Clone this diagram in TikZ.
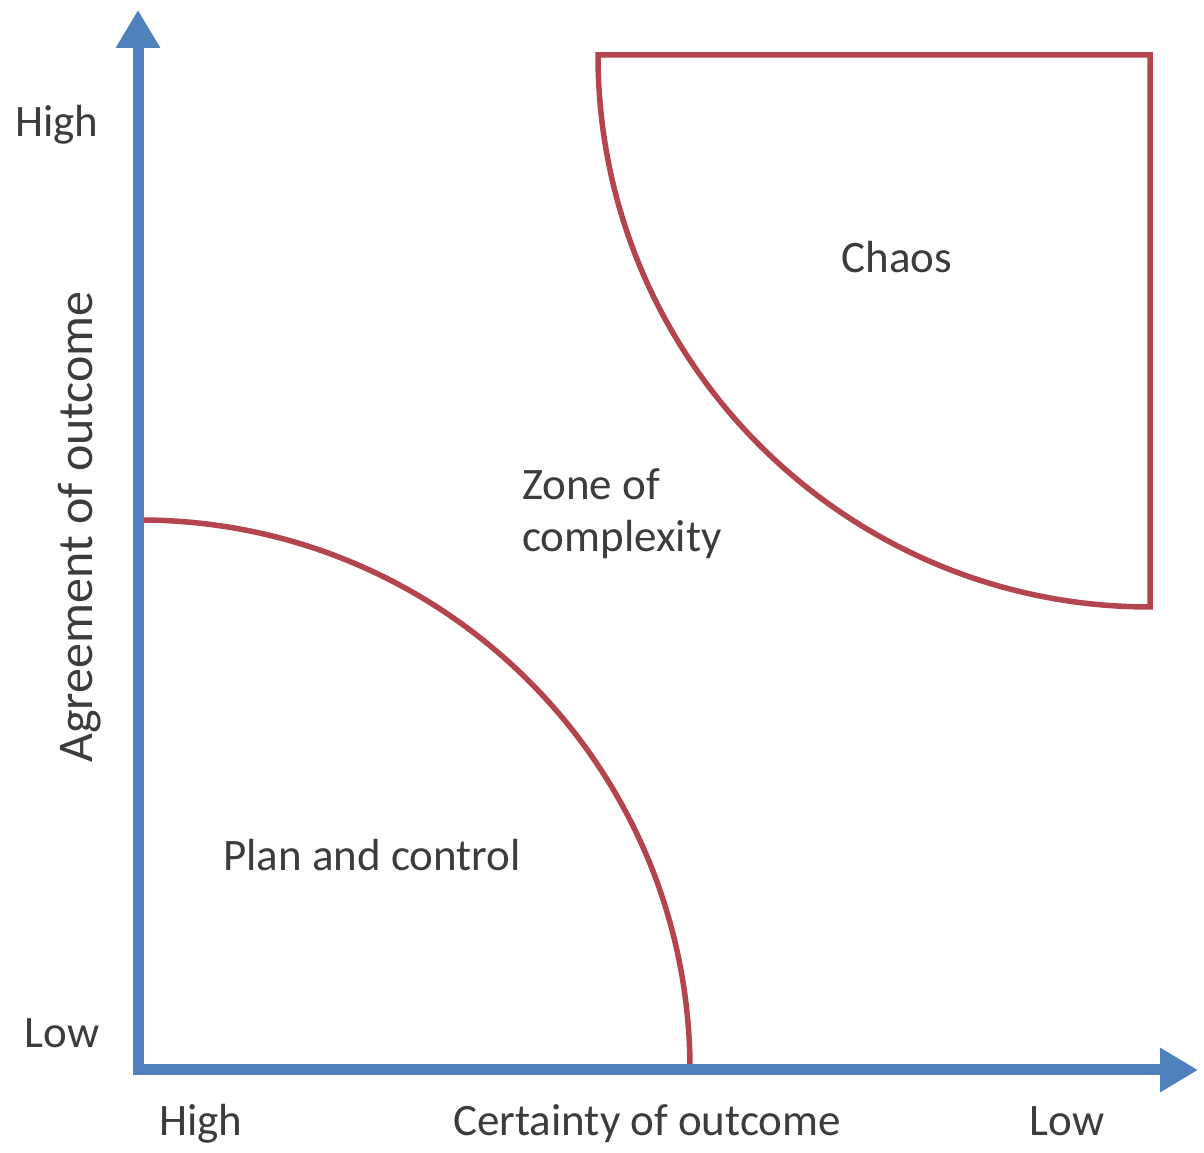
\documentclass[tikz,border=0pt]{standalone}
\usepackage{fontspec}
\setmainfont{Carlito}
\usetikzlibrary{arrows.meta}
\definecolor{axisblue}{RGB}{79,129,189}
\definecolor{zonered}{RGB}{180,68,78}
\definecolor{txt}{RGB}{60,60,60}
\begin{document}
\begin{tikzpicture}[x=1pt,y=1pt,
  axis/.style={draw=axisblue,line width=11pt,-{Triangle[width=42pt,length=38pt]}},
  zone/.style={draw=zonered,line width=5.5pt},
  lbl/.style={text=txt,font=\fontsize{45}{52}\selectfont,inner sep=0pt}]
\useasboundingbox (0,0) rectangle (1204,1153);
\fill[white] (0,0) rectangle (1204,1153);
% zones
\coordinate (O) at (140,83);
\coordinate (C) at (1150,1098);
\draw[zone] (140,633) arc[start angle=90,end angle=0,radius=550];
\draw[zone,line join=miter] (598,1098) -- (C) -- (1150,546) arc[start angle=270,end angle=180,radius=552] -- cycle;
% axes
\coordinate (xs) at (133,83);
\coordinate (xe) at (1198,83);
\coordinate (ys) at (138,78);
\coordinate (ye) at (138,1143);
\draw[axis] (xs) -- (xe);
\draw[axis] (ys) -- (ye);
% labels
\node[lbl] (yhigh) at (57,1028) {High};
\node[lbl] (ylow) at (62,120) {Low};
\node[lbl,anchor=base] (xhigh) at (201,17) {High};
\node[lbl,anchor=base] (xlab) at (647,17) {Certainty of outcome};
\node[lbl,anchor=base] (xlow) at (1067,17) {Low};
\node[lbl,rotate=90,font=\fontsize{50}{58}\selectfont] (ylab) at (80,626) {Agreement of outcome};
\node[lbl] (chaos) at (897,896) {Chaos};
\node[lbl,align=left,anchor=west] (zone) at (522,639) {Zone of\\complexity};
\node[lbl] (plan) at (372,298) {Plan and control};
\end{tikzpicture}
\end{document}
